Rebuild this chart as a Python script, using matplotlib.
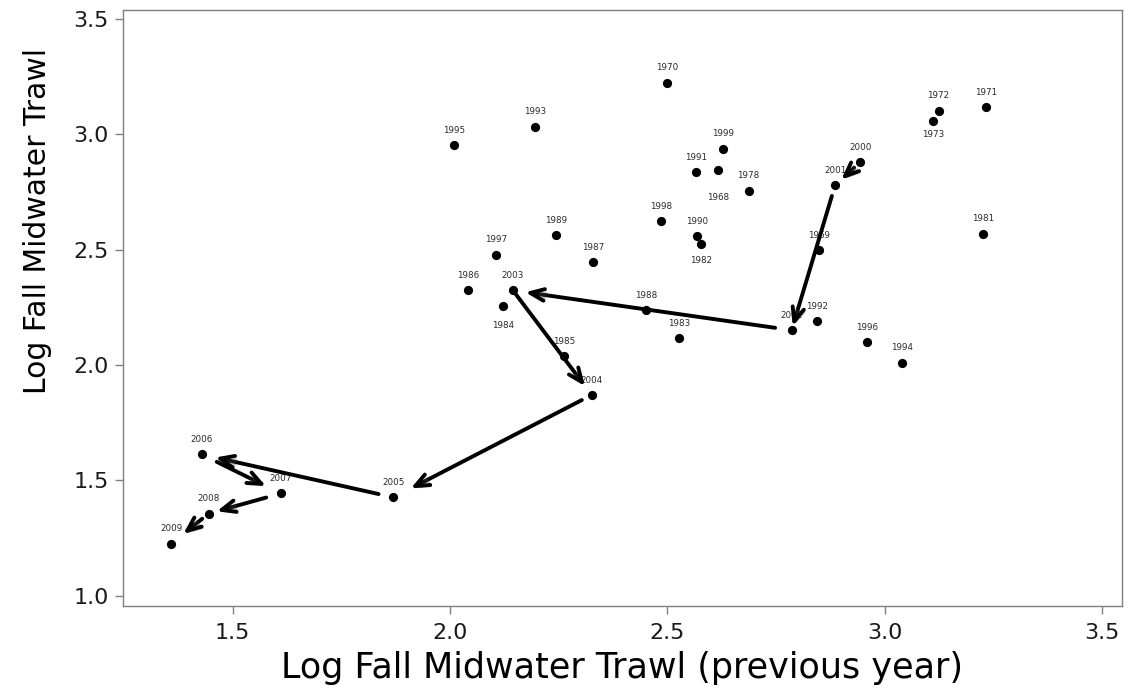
import matplotlib
matplotlib.use("Agg")
import matplotlib.pyplot as plt
import matplotlib.patheffects as pe

years = [1968, 1969, 1970, 1971, 1972, 1973, 1978, 1981, 1982, 1983, 1984, 1985,
         1986, 1987, 1988, 1989, 1990, 1991, 1992, 1993, 1994, 1995, 1996, 1997,
         1998, 1999, 2000, 2001, 2002, 2003, 2004, 2005, 2006, 2007, 2008, 2009]
prev_year = [2.616, 2.850, 2.499, 3.233, 3.124, 3.111, 2.687, 3.227, 2.578, 2.528, 2.123, 2.263,
             2.042, 2.330, 2.452, 2.243, 2.568, 2.566, 2.845, 2.195, 3.041, 2.010, 2.960, 2.107,
             2.485, 2.628, 2.944, 2.886, 2.786, 2.145, 2.326, 1.870, 1.429, 1.611, 1.445, 1.359]
curr_year = [2.844, 2.497, 3.224, 3.117, 3.102, 3.059, 2.755, 2.570, 2.523, 2.116, 2.255, 2.038,
             2.325, 2.446, 2.238, 2.563, 2.559, 2.837, 2.190, 3.033, 2.009, 2.954, 2.100, 2.478,
             2.623, 2.937, 2.880, 2.779, 2.151, 2.323, 1.870, 1.426, 1.612, 1.443, 1.356, 1.226]
below_labels = {1968: -16, 1973: -7, 1982: -8.5, 1984: -11}
arrow_years = [2000, 2001, 2002, 2003, 2004, 2005, 2006, 2007, 2008, 2009]
x_ticks = [1.5, 2.0, 2.5, 3.0, 3.5]
y_ticks = [1.0, 1.5, 2.0, 2.5, 3.0, 3.5]

fig = plt.figure(figsize=(11.35, 6.96), dpi=100)
ax = fig.add_axes([0.1081, 0.1293, 0.8804, 0.8563])

ax.scatter(prev_year, curr_year, s=44, color="black", zorder=3, linewidths=0)

for yr, xv, yv in zip(years, prev_year, curr_year):
    if yr in below_labels:
        dy = below_labels[yr]
        va = "top"
    else:
        dy = 7.5
        va = "bottom"
    ax.annotate(str(yr), (xv, yv), xytext=(0, dy), textcoords="offset points",
                ha="center", va=va, fontsize=6.3, color="#2a2a2a", zorder=4,
                family="DejaVu Sans")

# arrows between consecutive years
shrink_a = [6, 8, 12, 2, 8, 11, 12, 11, 6]
shrink_b = [6, 3, 9, 8, 14, 10, 12, 6, 11]
lookup = {yr: (xv, yv) for yr, xv, yv in zip(years, prev_year, curr_year)}
for i in range(len(arrow_years) - 1):
    a = lookup[arrow_years[i]]
    b = lookup[arrow_years[i + 1]]
    ax.annotate("", xy=b, xytext=a,
                arrowprops=dict(arrowstyle="->,head_length=1.0,head_width=0.42",
                                color="black", lw=2.8,
                                shrinkA=shrink_a[i], shrinkB=shrink_b[i],
                                path_effects=[pe.SimplePatchShadow(offset=(1.5, -1.5),
                                                                   alpha=0.3),
                                              pe.Normal()]),
                zorder=5)

ax.set_xlim(1.247, 3.546)
ax.set_ylim(0.955, 3.539)
ax.set_xticks(x_ticks)
ax.set_yticks(y_ticks)
ax.set_xticklabels([f"{t:.1f}" for t in x_ticks])
ax.set_yticklabels([f"{t:.1f}" for t in y_ticks])
for s in ax.spines.values():
    s.set_color("#7f7f7f")
    s.set_linewidth(1.0)
ax.tick_params(axis="both", direction="out", length=6, width=1, color="#7f7f7f",
               labelsize=16, labelcolor="#1a1a1a")
ax.tick_params(axis="x", pad=6)
ax.tick_params(axis="y", pad=4)

ax.set_xlabel("Log Fall Midwater Trawl (previous year)", fontsize=25.2, color="black",
              labelpad=6)
ax.set_ylabel("Log Fall Midwater Trawl", fontsize=21.5, color="black", va="center")
ax.yaxis.set_label_coords(-0.0848, 0.646)

fig.savefig("out.png", dpi=100)
